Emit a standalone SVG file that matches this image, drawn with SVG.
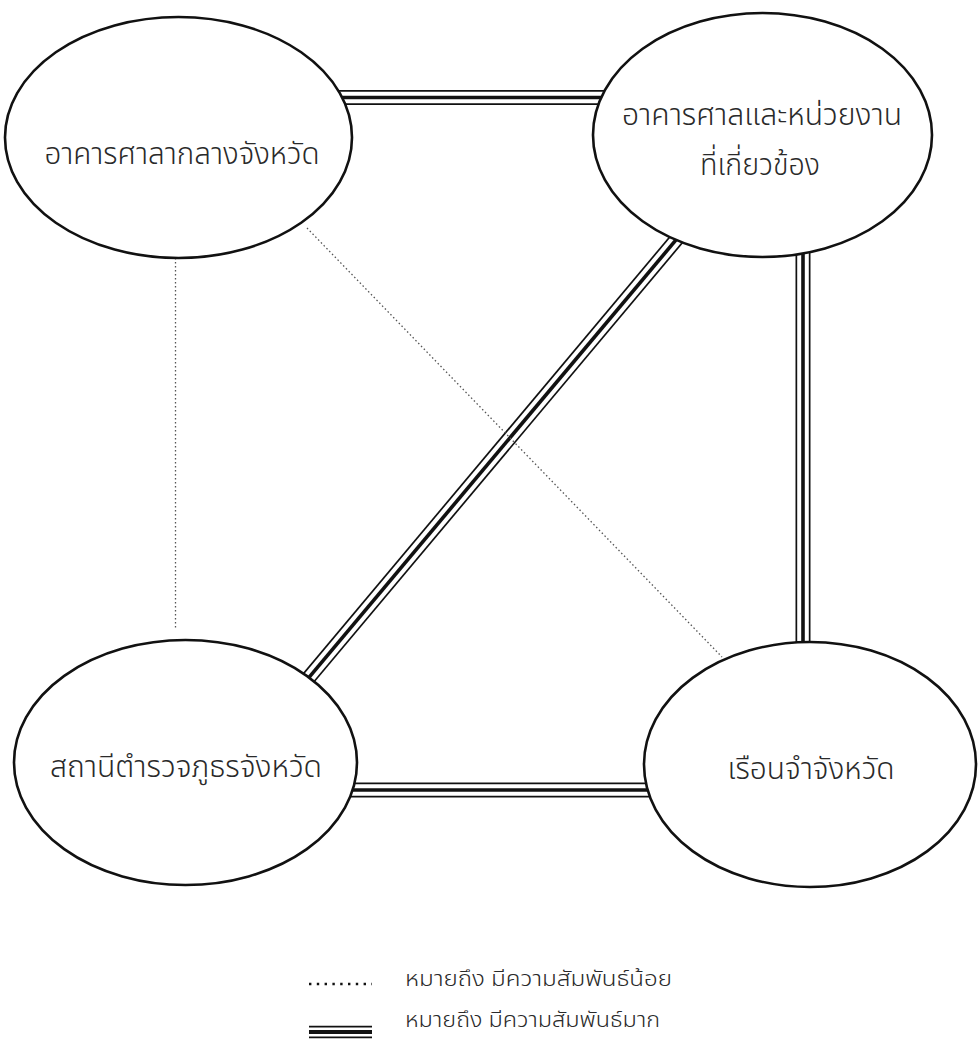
<svg xmlns="http://www.w3.org/2000/svg" width="978" height="1041" viewBox="0 0 978 1041">
<style>
.bg{fill:#ffffff}
.node{fill:#ffffff;stroke:#111;stroke-width:2.6}
.lbl{font-family:"Noto Sans Thai","Noto Serif Thai","Noto Sans","DejaVu Sans",sans-serif;font-size:31px;font-weight:300;fill:#2a2a2a;text-anchor:middle}
.leg{font-family:"Noto Sans Thai","Noto Serif Thai","Noto Sans","DejaVu Sans",sans-serif;font-size:22px;font-weight:300;fill:#2a2a2a}
.t1{stroke:#111;stroke-width:15;fill:none}
.t2{stroke:#ffffff;stroke-width:11.6;fill:none}
.t3{stroke:#111;stroke-width:3.6;fill:none}
.dot{stroke:#555;stroke-width:1.3;stroke-dasharray:1.5 2.5;fill:none}
</style>
<rect class="bg" x="0" y="0" width="978" height="1041"/>
<g id="connectors">
  <g id="strong-top">
    <line class="t1" x1="178" y1="97.5" x2="762" y2="97.5"/>
    <line class="t2" x1="178" y1="97.5" x2="762" y2="97.5"/>
    <line class="t3" x1="178" y1="97.5" x2="762" y2="97.5"/>
  </g>
  <g id="strong-right">
    <line class="t1" x1="803" y1="135" x2="803" y2="764"/>
    <line class="t2" x1="803" y1="135" x2="803" y2="764"/>
    <line class="t3" x1="803" y1="135" x2="803" y2="764"/>
  </g>
  <g id="strong-bottom">
    <line class="t1" x1="185" y1="790" x2="810" y2="790"/>
    <line class="t2" x1="185" y1="790" x2="810" y2="790"/>
    <line class="t3" x1="185" y1="790" x2="810" y2="790"/>
  </g>
  <g id="strong-diagonal">
    <line class="t1" x1="764" y1="135" x2="238" y2="762"/>
    <line class="t2" x1="764" y1="135" x2="238" y2="762"/>
    <line class="t3" x1="764" y1="135" x2="238" y2="762"/>
  </g>
  <line id="weak-left" class="dot" x1="175.5" y1="258" x2="175.5" y2="628"/>
  <line id="weak-diagonal" class="dot" x1="307" y1="228" x2="722" y2="657"/>
</g>
<g id="node-provincial-hall">
  <ellipse class="node" cx="178.5" cy="137.5" rx="173.5" ry="120.5"/>
  <text class="lbl" x="182" y="164" textLength="275" lengthAdjust="spacingAndGlyphs">อาคารศาลากลางจังหวัด</text>
</g>
<g id="node-court">
  <ellipse class="node" cx="762.5" cy="135" rx="169.5" ry="122"/>
  <text class="lbl" x="762" y="125" textLength="280" lengthAdjust="spacingAndGlyphs">อาคารศาลและหน่วยงาน</text>
  <text class="lbl" x="760" y="175" textLength="120" lengthAdjust="spacingAndGlyphs">ที่เกี่ยวข้อง</text>
</g>
<g id="node-police">
  <ellipse class="node" cx="185.5" cy="762.5" rx="171.5" ry="122.5"/>
  <text class="lbl" x="186" y="777" textLength="272" lengthAdjust="spacingAndGlyphs">สถานีตำรวจภูธรจังหวัด</text>
</g>
<g id="node-prison">
  <ellipse class="node" cx="810" cy="764.5" rx="166" ry="122.5"/>
  <text class="lbl" x="811" y="779" textLength="167" lengthAdjust="spacingAndGlyphs">เรือนจำจังหวัด</text>
</g>
<g id="legend">
  <line x1="309" y1="984" x2="372" y2="984" stroke="#111" stroke-width="2.4" stroke-dasharray="2.4 5.4"/>
  <text class="leg" x="405" y="986" textLength="267" lengthAdjust="spacingAndGlyphs">หมายถึง  มีความสัมพันธ์น้อย</text>
  <line class="t1" x1="309" y1="1032" x2="372" y2="1032" style="stroke-width:12.5"/>
  <line class="t2" x1="309" y1="1032" x2="372" y2="1032" style="stroke-width:9"/>
  <line class="t3" x1="309" y1="1032" x2="372" y2="1032" style="stroke-width:4"/>
  <text class="leg" x="405" y="1027" textLength="255" lengthAdjust="spacingAndGlyphs">หมายถึง  มีความสัมพันธ์มาก</text>
</g>
</svg>
